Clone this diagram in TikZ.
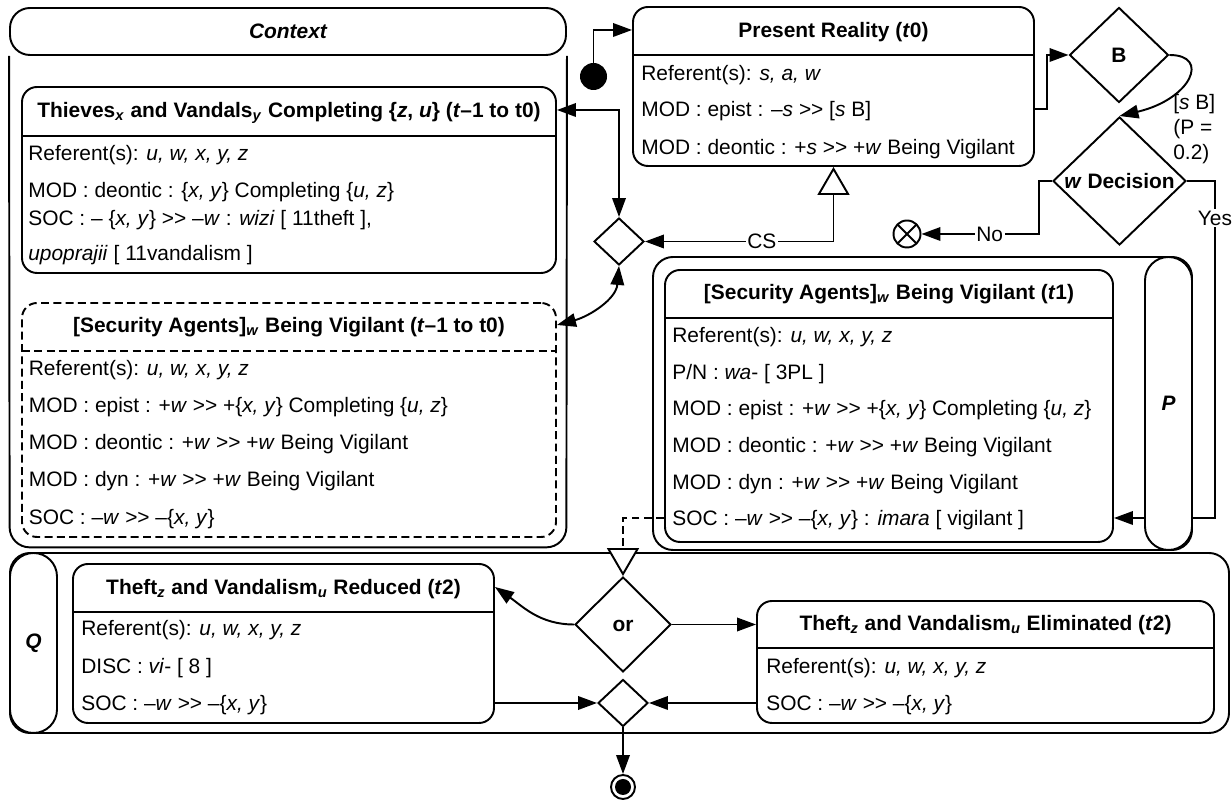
\documentclass[tikz,border=0pt]{standalone}
\usepackage{fontspec}
\setmainfont{Liberation Sans}
\usetikzlibrary{arrows.meta,shapes.geometric}
\newcommand{\dfont}{\fontsize{11.9pt}{14pt}\selectfont}
\newcommand{\ggt}{>\kern0pt>}
\tikzset{
  >={Triangle[length=0.38cm, width=0.27cm]},
  Hollow/.tip={Triangle[fill=white, length=0.56cm, width=0.64cm]},
  laneline/.style={line width=1.1pt, draw=black, rounded corners=0.4cm},
  lanearea/.style={inner sep=0pt},
  lanebox/.style={laneline, fill=white, inner sep=0pt},
  lanehead/.style={lanebox, font=\dfont\bfseries\itshape, text height=8.5pt, text depth=0pt},
  pill/.style={line width=1.1pt, draw=black, fill=white, rounded corners=0.47cm, minimum width=0.94cm, inner sep=0pt, font=\dfont\bfseries\itshape},
  statebox/.style={line width=1.1pt, draw=black, fill=white, rounded corners=0.3cm, inner sep=0pt},
  ghostbox/.style={statebox, dash pattern=on 4.5pt off 2.5pt},
  divider/.style={line width=1.1pt},
  headtext/.style={font=\dfont\bfseries, inner sep=0pt, text height=8.5pt, text depth=0pt},
  rowtext/.style={font=\dfont, anchor=west, inner sep=0pt, text height=8.5pt, text depth=0pt},
  plaintext/.style={font=\fontsize{11.9pt}{14.2pt}\selectfont, inner sep=0pt},
  edgelabel/.style={font=\dfont, fill=white, inner sep=1pt, text height=8.5pt, text depth=0pt},
  decision/.style={diamond, aspect=1, line width=1.1pt, draw=black, fill=white, inner sep=0pt, font=\dfont\bfseries, text height=8.5pt, text depth=0pt},
  merge/.style={diamond, line width=1.1pt, draw=black, fill=white, inner sep=0pt, minimum width=1.0cm, minimum height=0.94cm},
  startdot/.style={circle, fill=black, minimum size=0.54cm, inner sep=0pt},
  stopnode/.style={circle, draw=black, line width=1.1pt, minimum size=0.54cm, inner sep=0pt,
    path picture={\draw[line width=1.1pt] (path picture bounding box.south west) -- (path picture bounding box.north east)
      (path picture bounding box.north west) -- (path picture bounding box.south east);}},
  enddot/.style={circle, draw=black, line width=1.1pt, minimum size=0.48cm, inner sep=0pt,
    path picture={\fill (path picture bounding box.center) circle (0.16cm);}},
  flow/.style={line width=1.1pt, ->},
  twoway/.style={line width=1.1pt, <->},
}
\begin{document}
\begin{tikzpicture}
\useasboundingbox (0,0) rectangle (24.64,16.02);
% lanes
\node[lanearea, minimum width=11.12cm, minimum height=10.78cm] (context) at (5.76,10.47) {};
\node[lanehead, minimum width=11.12cm, minimum height=0.94cm] (ctxhead) at (5.76,15.39) {Context};
\draw[laneline] (ctxhead.south west) -- (context.south west) -- (context.south east) -- (ctxhead.south east);
\node[lanebox, minimum width=10.78cm, minimum height=5.86cm] (plane) at (18.45,7.95) {};
\node[lanebox, minimum width=24.38cm, minimum height=3.60cm] (qlane) at (12.39,3.16) {};
\node[pill, minimum height=3.60cm] (qpill) at (0.67,3.16) {Q};
% thieves and vandals
\node[statebox, minimum width=10.68cm, minimum height=3.72cm] (thieves) at (5.78,12.42) {};
\draw[divider] (0.44,13.30) -- (11.12,13.30);
\node[headtext] (thhead) at (5.78,13.82) {Thieves\textsubscript{\textit{x}} and Vandals\textsubscript{\textit{y}} Completing \{\textit{z}, \textit{u}\} (\textit{t}–1 to t0)};
\node[rowtext] (th1) at (0.56,12.96) {Referent(s): \textit{u, w, x, y, z}};
\node[rowtext] (th2) at (0.56,12.22) {MOD : deontic : \{\textit{x, y}\} Completing \{\textit{u, z}\}};
\node[rowtext] (th3) at (0.56,11.66) {SOC : – \{\textit{x, y}\} \ggt{} –\textit{w} : \textit{wizi} [ 11theft ],};
\node[rowtext] (th4) at (0.56,10.96) {\textit{upoprajii} [ 11vandalism ]};
% security agents before
\node[ghostbox, minimum width=10.68cm, minimum height=4.68cm] (sa0) at (5.78,7.62) {};
\draw[divider, dash pattern=on 4.5pt off 2.5pt] (0.44,9.00) -- (11.12,9.00);
\node[headtext] (sa0head) at (5.78,9.52) {[Security Agents]\textsubscript{\textit{w}} Being Vigilant (\textit{t}–1 to t0)};
\node[rowtext] (sa0r1) at (0.57,8.66) {Referent(s): \textit{u, w, x, y, z}};
\node[rowtext] (sa0r2) at (0.57,7.92) {MOD : epist : +\textit{w} \ggt{} +\{\textit{x, y}\} Completing \{\textit{u, z}\}};
\node[rowtext] (sa0r3) at (0.57,7.18) {MOD : deontic : +\textit{w} \ggt{} +\textit{w} Being Vigilant};
\node[rowtext] (sa0r4) at (0.57,6.44) {MOD : dyn : +\textit{w} \ggt{} +\textit{w} Being Vigilant};
\node[rowtext] (sa0r5) at (0.57,5.68) {SOC : –\textit{w} \ggt{} –\{\textit{x, y}\}};
% present reality
\node[statebox, minimum width=8.02cm, minimum height=3.18cm] (pr) at (16.67,14.29) {};
\draw[divider] (12.66,14.92) -- (20.68,14.92);
\node[headtext] (prhead) at (16.67,15.42) {Present Reality (\textit{t}0)};
\node[rowtext] (pr1) at (12.82,14.56) {Referent(s): \textit{s, a, w}};
\node[rowtext] (pr2) at (12.82,13.84) {MOD : epist : –\textit{s} \ggt{} [\textit{s} B]};
\node[rowtext] (pr3) at (12.82,13.08) {MOD : deontic : +\textit{s} \ggt{} +\textit{w} Being Vigilant};
% security agents after
\node[statebox, minimum width=8.96cm, minimum height=5.44cm] (sa1) at (17.78,7.90) {};
\draw[divider] (13.30,9.66) -- (22.26,9.66);
\node[headtext] (sa1head) at (17.78,10.18) {[Security Agents]\textsubscript{\textit{w}} Being Vigilant (\textit{t}1)};
\node[rowtext] (sa1r1) at (13.44,9.32) {Referent(s): \textit{u, w, x, y, z}};
\node[rowtext] (sa1r2) at (13.44,8.58) {P/N : \textit{wa}- [ 3PL ]};
\node[rowtext] (sa1r3) at (13.44,7.86) {MOD : epist : +\textit{w} \ggt{} +\{\textit{x, y}\} Completing \{\textit{u, z}\}};
\node[rowtext] (sa1r4) at (13.44,7.12) {MOD : deontic : +\textit{w} \ggt{} +\textit{w} Being Vigilant};
\node[rowtext] (sa1r5) at (13.44,6.38) {MOD : dyn : +\textit{w} \ggt{} +\textit{w} Being Vigilant};
\node[rowtext] (sa1r6) at (13.44,5.66) {SOC : –\textit{w} \ggt{} –\{\textit{x, y}\} : \textit{imara} [ vigilant ]};
% outcomes
\node[statebox, minimum width=8.42cm, minimum height=3.18cm] (reduced) at (5.67,3.15) {};
\draw[divider] (1.46,3.78) -- (9.88,3.78);
\node[headtext] (redhead) at (5.67,4.28) {Theft\textsubscript{\textit{z}} and Vandalism\textsubscript{\textit{u}} Reduced (\textit{t}2)};
\node[rowtext] (red1) at (1.62,3.46) {Referent(s): \textit{u, w, x, y, z}};
\node[rowtext] (red2) at (1.62,2.70) {DISC : \textit{vi}- [ 8 ]};
\node[rowtext] (red3) at (1.62,1.96) {SOC : –\textit{w} \ggt{} –\{\textit{x, y}\}};
\node[statebox, minimum width=9.14cm, minimum height=2.44cm] (elim) at (19.71,2.78) {};
\draw[divider] (15.14,3.06) -- (24.28,3.06);
\node[headtext] (elhead) at (19.71,3.56) {Theft\textsubscript{\textit{z}} and Vandalism\textsubscript{\textit{u}} Eliminated (\textit{t}2)};
\node[rowtext] (el1) at (15.32,2.70) {Referent(s): \textit{u, w, x, y, z}};
\node[rowtext] (el2) at (15.32,1.96) {SOC : –\textit{w} \ggt{} –\{\textit{x, y}\}};
% decisions and merges
\node[decision, minimum width=1.98cm, minimum height=1.90cm] (bdec) at (22.38,14.92) {B};
\node[decision, minimum width=2.66cm, minimum height=2.56cm] (wdec) at (22.39,12.40) {\textit{w} Decision};
\node[decision, minimum width=1.92cm, minimum height=1.90cm] (ordec) at (12.46,3.53) {or};
\node[merge] (dmid) at (12.38,11.19) {};
\node[merge] (dbot) at (12.46,1.96) {};
\node[startdot] (start) at (11.87,14.49) {};
\node[stopnode] (stop) at (18.14,11.34) {};
\node[enddot] (final) at (12.46,0.28) {};
\node[plaintext, anchor=west, align=left] (guard) at (23.46,13.44) {[\textit{s} B]\\(P =\\0.2)};
% connectors
\draw[flow] (start.north) |- (pr.west |- prhead);
\draw[flow] (pr.east |- pr2) -- ++(0.24,0) |- (bdec.west);
\draw[flow] (bdec.east) .. controls +(0.82,0) and +(1.44,0.34) .. (wdec.north);
\draw[flow] (wdec.west) -- ++(-0.26,0) |- node[edgelabel, pos=0.71] {No} (stop.east);
\draw[flow] (wdec.east) -- ++(0.56,0) |- node[edgelabel, pos=0.055] {Yes} (sa1.east |- sa1r6);
\draw[line width=1.1pt, <-Hollow] (dmid.east) -| node[edgelabel, pos=0.31] {CS} (pr.south);
\draw[twoway] (dmid.north) |- (thieves.east |- thhead);
\draw[twoway] (dmid.south) to[out=-95, in=15] (sa0.east |- sa0head);
\draw[line width=1.1pt, dash pattern=on 4.5pt off 2.5pt, -Hollow] (sa1.west |- sa1r6) -| (ordec.north);
\draw[flow] (ordec.west) to[out=180, in=-35] (reduced.east |- redhead);
\draw[flow] (ordec.east) -- (ordec.east -| elim.west);
\draw[flow] (dbot.west -| reduced.east) -- (dbot.west);
\draw[flow] (dbot.east -| elim.west) -- (dbot.east);
\draw[flow] (dbot.south) -- (final.north);
\node[pill, minimum height=5.86cm] (ppill) at (23.37,7.95) {P};
\end{tikzpicture}
\end{document}
